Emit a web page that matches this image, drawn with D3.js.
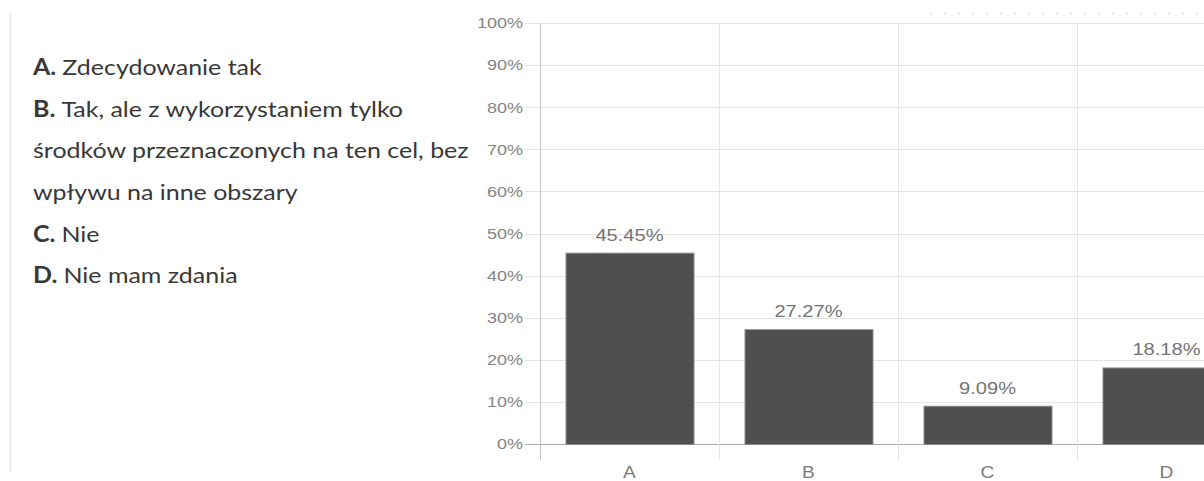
<!DOCTYPE html>
<html>
<head>
<meta charset="utf-8">
<script src="https://cdn.jsdelivr.net/npm/d3@7"></script>
<style>
  html, body { margin: 0; padding: 0; background: #fff; overflow: hidden; }
  svg { display: block; }
</style>
</head>
<body>
<svg id="chart" width="1204" height="481"></svg>
<script>
// Survey answers and their share of responses
const categories = ["A", "B", "C", "D"];
const shares = [0.4545, 0.2727, 0.0909, 0.1818];
const yTicks = [0, 0.1, 0.2, 0.3, 0.4, 0.5, 0.6, 0.7, 0.8, 0.9, 1.0];
const legendKeys = ["A.", "B.", null, null, "C.", "D."];
const legendLines = [
  "Zdecydowanie tak",
  "Tak, ale z wykorzystaniem tylko",
  "środków przeznaczonych na ten cel, bez",
  "wpływu na inne obszary",
  "Nie",
  "Nie mam zdania"
];

const svg = d3.select("#chart");
const W = 1204, H = 481;
const plot = { left: 540, top: 23, bottom: 444, right: 1256 };
const textStretch = 1.2;
const legendStretch = 1.135;

// Frame line on the left of the panel
svg.append("line")
  .attr("x1", 10.5).attr("x2", 10.5).attr("y1", 13).attr("y2", 472)
  .attr("stroke", "#ececec").attr("stroke-width", 2);

// Faint dotted strip along the top edge
svg.append("line")
  .attr("x1", 930).attr("x2", W).attr("y1", 13.5).attr("y2", 13.5)
  .attr("stroke", "#d8d8d8").attr("stroke-width", 1.5)
  .attr("stroke-dasharray", "2,12");

// Legend describing the answers
const legend = svg.append("g")
  .attr("transform", `translate(33,0) scale(${legendStretch},1)`)
  .attr("font-family", "Lato, 'Open Sans', sans-serif")
  .attr("font-size", 22).attr("fill", "#383838");
legendLines.forEach((line, i) => {
  const t = legend.append("text")
    .attr("x", 0).attr("y", 75 + i * 41.7);
  if (legendKeys[i]) {
    t.append("tspan").attr("font-weight", "bold").text(legendKeys[i] + " ");
  }
  t.append("tspan").text(line);
});

const y = d3.scaleLinear().domain([0, 1]).range([plot.bottom, plot.top]);
const x = d3.scaleBand().domain(categories)
  .range([plot.left, plot.right]).paddingInner(0.285).paddingOuter(0.1425);
const step = x.step();

// Horizontal gridlines with left ticks
svg.append("g").selectAll("line").data(yTicks).join("line")
  .attr("x1", plot.left - 15).attr("x2", W)
  .attr("y1", d => Math.round(y(d)) + 0.5).attr("y2", d => Math.round(y(d)) + 0.5)
  .attr("stroke", d => d === 0 ? "#aaaaaa" : "#e4e4e4").attr("stroke-width", 1);

// Vertical category separators
const seps = categories.map((c, i) => plot.left + i * step);
svg.append("g").selectAll("line").data(seps).join("line")
  .attr("x1", d => Math.round(d) + 0.5).attr("x2", d => Math.round(d) + 0.5)
  .attr("y1", plot.top).attr("y2", 460)
  .attr("stroke", (d, i) => i === 0 ? "#c4c4c4" : "#e4e4e4").attr("stroke-width", 1);

// Y axis labels
const yAxis = d3.axisLeft(y).tickValues(yTicks).tickFormat(d3.format(".0%")).tickSize(0).tickPadding(0);
const yg = svg.append("g").attr("transform", `translate(523,0)`).call(yAxis);
yg.select(".domain").remove();
yg.selectAll("text")
  .attr("font-family", "'Liberation Sans', Arial, sans-serif")
  .attr("font-size", 15).attr("fill", "#858585")
  .attr("transform", `scale(${textStretch},1)`)
  .attr("x", 0);

// Bars
svg.append("g").selectAll("rect").data(categories).join("rect")
  .attr("x", d => x(d) + 0.5)
  .attr("y", (d, i) => y(shares[i]) + 0.5)
  .attr("width", x.bandwidth())
  .attr("height", (d, i) => y(0) - y(shares[i]))
  .attr("fill", "#4f4f4f").attr("stroke", "#8a8a8a").attr("stroke-width", 1);

// Value labels above bars
svg.append("g").selectAll("text").data(categories).join("text")
  .attr("transform", (d, i) => `translate(${x(d) + x.bandwidth() / 2},${y(shares[i]) - 12}) scale(1.22,1)`)
  .attr("text-anchor", "middle")
  .attr("font-family", "'Liberation Sans', Arial, sans-serif")
  .attr("font-size", 16.5).attr("fill", "#747474")
  .text((d, i) => d3.format(".2%")(shares[i]));

// Category labels below the axis
const xAxis = d3.axisBottom(x).tickSize(0).tickPadding(0);
const xg = svg.append("g").attr("transform", `translate(0,478)`).call(xAxis);
xg.select(".domain").remove();
xg.selectAll("text")
  .attr("font-family", "'Liberation Sans', Arial, sans-serif")
  .attr("font-size", 16).attr("fill", "#7a7a7a")
  .attr("dy", 0).attr("x", 0)
  .attr("transform", `scale(${textStretch},1)`);
</script>
</body>
</html>
